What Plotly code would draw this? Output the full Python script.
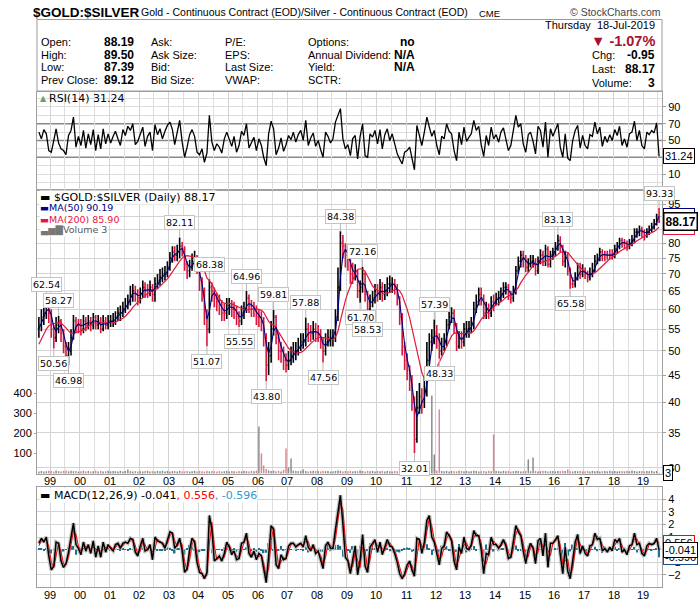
import math
import pandas as pd
import plotly.graph_objects as go

# ---------------- data (monthly readings, Aug 1998 .. Jul 2019) ----------------
first_open = 55.0
close = [
    56, 58, 59, 61, 59,
    55, 53, 56, 57, 54, 51, 49, 50, 53, 57, 56, 56,
    55, 57, 56, 57, 56, 58, 56, 57, 55, 57, 56, 57,
    57, 57, 58, 59, 59, 60, 61, 62, 64, 65, 64, 63,
    64, 66, 65, 65, 66, 64, 67, 68, 69, 70, 70, 72,
    75, 77, 76, 77, 79, 78, 73, 71, 72, 74, 75, 72,
    68, 65, 58, 55, 66, 65, 63, 62, 61, 59, 59, 61,
    61, 60, 60, 58, 57, 59, 60, 63, 61, 60, 60, 58,
    58, 57, 53, 47, 49, 55, 58, 53, 50, 50, 48, 47,
    48, 49, 50, 50, 51, 52, 52, 55, 54, 54, 55, 54,
    54, 52, 50, 52, 53, 53, 53, 58, 66, 80, 79, 76,
    75, 70, 70, 71, 65, 66, 70, 64, 60, 62, 63, 65,
    64, 66, 64, 65, 67, 67, 67, 66, 63, 58, 51, 48,
    46, 44, 40, 34, 39, 41, 40, 42, 48, 52, 53, 54,
    53, 50, 51, 52, 56, 58, 59, 56, 51, 53, 52, 55,
    55, 55, 56, 60, 62, 64, 63, 59, 60, 59, 62, 61.5,
    63, 63, 64, 66, 66, 64, 63, 65, 71, 74, 76, 75,
    72, 73, 74, 74, 71, 74, 76, 74, 78, 73, 76, 77,
    79, 81, 79, 74, 76, 71, 67, 67, 69, 72, 70, 71,
    70, 69, 70, 71, 74, 75, 77, 76, 76, 76, 76, 76,
    78, 79, 81, 80, 80, 79, 80, 81, 84, 84, 85, 84,
    83, 84, 85, 86, 87, 89, 88.17,
]
high = [
    58, 60, 61, 62.54, 62,
    60, 56, 58, 58.27, 57.5, 55, 52, 52, 55, 58.5, 58, 57.5,
    57.5, 58.5, 58, 58.5, 58, 59, 58.5, 58.5, 58, 58.5, 58, 58.5,
    58.5, 59, 59.5, 60.5, 61, 62, 63, 64, 66.5, 67, 66.5, 65.5,
    66, 68, 67.5, 67, 68, 67, 69, 70, 71.5, 72, 72.5, 74,
    77, 79, 79, 79.5, 82.11, 80.5, 79, 74, 74.5, 76.5, 77.5, 76,
    73, 69, 66, 60, 68.38, 67.5, 66, 64.5, 64, 62.5, 61.5, 63,
    63, 62.5, 62, 61, 59.5, 61, 62, 64.96, 64, 62.5, 62, 61,
    60, 59.5, 58, 54, 52, 57, 59.81, 58.5, 54, 52, 51, 49.5,
    50, 51, 52, 52, 53, 54, 54, 57.88, 56.5, 56, 57, 56.5,
    56, 55, 53, 54, 55, 55, 55, 60, 72, 84.38, 83, 80,
    78, 76, 73.5, 73, 71.5, 68, 72.16, 70.5, 65, 64, 65, 67,
    67, 68.5, 67.5, 67, 69, 69.5, 69, 68.5, 67, 63.5, 59, 52,
    49.5, 47, 45, 41, 42, 43.5, 42.5, 44.5, 52, 54, 55, 57.39,
    56, 54, 53, 54, 57.5, 59.5, 60.5, 60, 56.5, 54.5, 54.5, 56.5,
    57, 57, 58, 62, 64, 66, 66, 64, 62, 61.5, 63.5, 64,
    64.5, 65, 66, 67.5, 67.5, 67, 65, 66.5, 72.5, 75.5, 77.5, 77.5,
    76, 75, 76, 76, 75, 75.5, 78, 77.5, 79.5, 79, 77.5, 78.5,
    80.5, 83.13, 82.5, 79.5, 77.5, 77, 72, 69, 70.5, 73.5, 73.5, 73,
    72, 71, 72, 73.5, 76, 76.5, 78.5, 78, 77.5, 77.5, 78, 78,
    79.5, 80.5, 82, 82, 81.5, 81, 81.5, 83, 85.5, 85.5, 86.5, 86,
    85, 85.5, 86.5, 87.5, 89, 91, 93.33,
]
low = [
    53, 54.5, 56, 57.5, 56.5,
    53, 50.56, 52, 54, 52, 49.5, 47.5, 46.98, 49, 52.5, 54, 54,
    53.5, 54, 54.5, 55, 54.5, 55, 55, 55, 54, 54.5, 55, 55,
    55.5, 55.5, 56, 57, 57, 58, 59, 60, 61, 62, 62, 61,
    61.5, 63, 63, 63, 63.5, 62, 62, 65.5, 66.5, 67.5, 68, 69,
    71, 73.5, 74, 74, 75, 75.5, 71, 68.5, 69, 71, 72, 70,
    65, 62, 56, 51.07, 54, 62, 60.5, 59.5, 58.5, 57, 57, 57.5,
    58.5, 58, 57.5, 56, 55.55, 56, 57.5, 59, 59, 58, 58, 56,
    55.5, 54.5, 51, 43.80, 45, 47.5, 53.5, 51.5, 48, 47.5, 46, 45.5,
    46, 47, 47.5, 48, 49, 50, 50.5, 51, 52, 52, 52.5, 52,
    52, 50.5, 47.56, 49, 51, 51, 51, 52, 57, 65, 75, 72,
    71, 67, 67, 68, 63, 61.70, 64.5, 62, 58.53, 59, 60.5, 61.5,
    62, 62.5, 62, 62.5, 63.5, 64.5, 64.5, 64, 61, 56, 49, 46,
    44, 42, 38.5, 32.01, 33.5, 38, 38, 39, 41, 47, 50, 51.5,
    50.5, 48.33, 49, 50, 51, 55, 56.5, 54, 50, 50.5, 50.5, 51,
    53, 53, 54, 55, 59, 61, 61, 57.5, 57.5, 57.5, 58, 59.5,
    61, 61, 62, 63, 64, 62.5, 61.5, 62, 64, 70, 72, 72,
    70.5, 70.5, 72, 72, 69.5, 70, 73, 72.5, 72.5, 72, 72, 74.5,
    75.5, 77.5, 77, 72.5, 72, 69.5, 65.58, 65.8, 66, 68, 68.5, 69,
    68.5, 67.5, 68, 69, 70.5, 73, 74, 74, 74, 74.5, 74.5, 74.5,
    75, 76.5, 78, 78.5, 78, 77.5, 78, 79, 80, 82, 82.5, 82,
    81, 82, 83, 84, 85, 86.5, 87.39,
]
ma50 = [
    55, 56.5, 58, 59.5, 60,
    58.5, 55.5, 54.5, 55.5, 56, 54, 51.5, 50, 51, 53.5, 55.5, 56.3,
    55.8, 56, 56.3, 56.6, 56.4, 57, 57, 56.8, 56, 56.3, 56.2, 56.6,
    56.8, 57, 57.4, 58.2, 58.8, 59.4, 60.3, 61.2, 62.8, 64.2, 64.4, 63.8,
    63.7, 64.8, 65.3, 65.2, 65.5, 65, 65.7, 66.6, 68.2, 69.2, 69.9, 70.8,
    72.8, 75.2, 76.2, 76.6, 77.7, 78.3, 76, 73.3, 72, 72.6, 73.8, 73.5,
    70.5, 67, 62.5, 57.5, 59.5, 63.5, 64.5, 63, 62, 60.5, 59.5, 59.8,
    60.5, 60.6, 60.3, 59.4, 58.2, 58, 59, 60.8, 61.5, 61.2, 60.5, 59.3,
    58.5, 57.6, 56, 51.5, 49.5, 51, 54.5, 55.5, 53.2, 51, 49.5, 48.2,
    47.7, 48.2, 49, 49.7, 50.3, 51, 51.7, 53, 54, 54.3, 54.3, 54.4,
    54.2, 53.3, 51.6, 51.2, 51.8, 52.7, 53, 54.8, 59.5, 69, 76, 78,
    76.5, 73.5, 71.2, 70.3, 68.6, 66.6, 67.3, 66.6, 63.6, 61.8, 61.9, 63.2,
    64, 64.8, 64.9, 64.7, 65.4, 66.3, 67, 66.7, 65.3, 62, 56.5, 51.5,
    48.3, 46, 43.2, 39.5, 37.5, 38.5, 40, 40.8, 43.3, 47.4, 50.8, 53.2,
    53.5, 52.3, 51, 51, 53, 55.3, 57.6, 57.7, 55, 53.3, 52.5, 53.3,
    54.3, 55, 55.4, 57.2, 59.7, 62, 63.2, 62, 60.5, 59.5, 60.3, 61.3,
    62.4, 62.8, 63.4, 64.6, 65.5, 65.3, 64.2, 64, 66.5, 70, 73.7, 75.2,
    74.3, 73.3, 73.2, 73.8, 73, 72.8, 74.5, 75, 75.8, 75.5, 75.4, 75.8,
    77.4, 79.2, 80, 77.9, 76.2, 74.2, 70.6, 68, 67.8, 69.4, 70.6, 70.8,
    70.5, 69.9, 69.6, 70.2, 71.8, 73.6, 75.5, 76.1, 76.2, 76, 76, 76,
    76.8, 78, 79.5, 80.2, 80.3, 79.8, 79.7, 80.2, 82, 83.5, 84.4, 84.5,
    84, 83.7, 84.3, 85.2, 86.2, 87.6, 90.19,
]
ma200 = [
    51.5, 52.5, 53.8, 55, 55.8,
    56.2, 56.3, 56.4, 56.6, 56.5, 56, 55.3, 54.6, 54, 54, 54.2, 54.5,
    54.6, 54.8, 55.3, 55.8, 56.2, 56.5, 56.5, 56.6, 56.5, 56.5, 56.5, 56.5,
    56.5, 56.6, 56.7, 57, 57.3, 57.7, 58.2, 58.8, 59.6, 60.5, 61.3, 61.9,
    62.5, 63.2, 63.8, 64.3, 64.6, 64.9, 65.3, 65.7, 66.3, 67, 67.7, 68.5,
    69.5, 70.7, 71.8, 72.9, 74, 75, 75.6, 75.8, 75.7, 75.5, 75.2, 74.8,
    74, 72.8, 71, 68.8, 68, 67, 65.6, 64.2, 62.9, 62, 61.6, 61.5,
    61.6, 61.4, 61.1, 60.8, 60.4, 60.1, 59.9, 59.9, 60, 60, 60.1, 60.1,
    60, 59.7, 59.2, 58, 56.9, 56.2, 56, 55.3, 54.3, 53.5, 52.6, 51.6,
    50.6, 50.1, 49.8, 49.6, 49.6, 49.7, 50, 50.6, 51.1, 51.6, 52.2, 52.6,
    53, 53.1, 53, 52.9, 52.8, 52.7, 52.6, 53.1, 54.5, 57.1, 59.8, 62.3,
    64.5, 66.4, 68.3, 70.1, 71.4, 71.6, 71.4, 70.8, 69.3, 67.6, 66.4, 65.7,
    65.3, 64.9, 64.4, 64.3, 64.4, 64.6, 65, 65.4, 65.5, 65, 63.8, 62,
    60, 57.8, 55.2, 52.2, 49.8, 47.5, 45.5, 44.3, 43.8, 44, 44.6, 45.5,
    46.5, 47.5, 48.5, 49.8, 51, 52.3, 53.4, 54, 54.1, 54, 53.9, 53.9,
    54, 54, 54.1, 54.6, 55.4, 56.4, 57.4, 58.2, 58.8, 59.4, 60, 60.7,
    61.2, 61.5, 61.9, 62.5, 63.2, 63.6, 63.8, 64.1, 64.9, 66, 67.4, 68.7,
    69.6, 70.5, 71.6, 72.6, 73.1, 73.4, 73.6, 73.7, 74.1, 74.3, 74.6, 75.1,
    75.5, 76.2, 76.9, 77, 77.2, 76.9, 75.8, 74.7, 73.7, 72.9, 72, 71.3,
    70.6, 69.9, 69.6, 69.9, 70.4, 71, 71.8, 72.6, 73.3, 74, 74.8, 75.3,
    75.9, 76.5, 77.2, 77.7, 78.2, 78.6, 79, 79.5, 80.2, 80.9, 81.5, 82.1,
    82.6, 83, 83.4, 83.8, 84.3, 85, 85.90,
]
volume = [
    10, 12, 9, 11, 13,
    12, 10, 14, 11, 9, 12, 15, 10, 13, 11, 12, 9,
    11, 13, 10, 12, 9, 11, 14, 10, 12, 9, 11, 13,
    10, 12, 11, 9, 13, 10, 12, 20, 11, 10, 12, 9,
    11, 10, 12, 13, 9, 11, 10, 12, 11, 13, 10, 12,
    9, 11, 12, 10, 13, 11, 10, 12, 9, 11, 13, 10,
    12, 11, 9, 13, 10, 12, 11, 10, 12, 9, 11, 13,
    10, 12, 11, 9, 12, 10, 13, 11, 10, 12, 11, 14,
    235, 100, 40, 22, 15, 12, 14, 11, 13, 10, 18, 125,
    30, 75, 14, 12, 11, 13, 20, 12, 10, 11, 13, 12,
    12, 10, 13, 11, 12, 9, 11, 12, 14, 13, 10, 12,
    11, 13, 10, 12, 11, 14, 12, 10, 13, 11, 12, 10,
    12, 11, 13, 10, 12, 11, 9, 12, 11, 13, 10, 12,
    11, 13, 12, 10, 14, 11, 12, 10, 13, 11, 390, 95,
    14, 320, 12, 11, 13, 10, 12, 11, 10, 13, 12, 11,
    12, 10, 11, 13, 12, 10, 11, 12, 10, 13, 11, 195,
    12, 11, 10, 13, 11, 12, 10, 11, 13, 12, 10, 11,
    12, 70, 11, 80, 12, 10, 11, 13, 12, 10, 11, 12,
    10, 12, 11, 13, 12, 20, 11, 10, 12, 11, 13, 10,
    11, 12, 10, 13, 11, 12, 10, 11, 12, 10, 13, 11,
    12, 10, 11, 12, 10, 13, 11, 15, 12, 10, 11, 12,
    10, 12, 11, 13, 10, 12, 3,
]
rsi = [
    60, 52, 63, 58, 38,
    36, 50, 64, 47, 40, 38, 33, 56, 62, 78, 42, 55,
    44, 62, 41, 58, 45, 63, 38, 57, 40, 64, 46, 58,
    47, 55, 61, 52, 44, 63, 56, 67, 62, 70, 45, 49,
    58, 66, 43, 55, 60, 38, 69, 57, 64, 52, 61, 68,
    72, 63, 45, 59, 74, 48, 30, 42, 57, 63, 55, 36,
    33, 40, 24, 35, 80, 48, 38, 46, 42, 35, 52, 60,
    50, 43, 55, 36, 44, 61, 56, 70, 41, 48, 54, 38,
    52, 44, 30, 20, 58, 73, 64, 33, 41, 53, 37, 45,
    56, 51, 60, 48, 57, 62, 50, 74, 44, 53, 59, 43,
    50, 39, 30, 60, 55, 47, 52, 72, 80, 88, 52, 40,
    45, 32, 52, 56, 28, 55, 70, 32, 30, 58, 54, 62,
    46, 63, 40, 57, 64, 50, 58, 45, 34, 28, 22, 36,
    38, 42, 28, 15, 68, 57, 44, 60, 78, 66, 55, 62,
    44, 33, 55, 52, 70, 61, 58, 38, 26, 60, 45, 66,
    49, 54, 58, 74, 62, 67, 45, 31, 56, 44, 66, 52,
    57, 48, 60, 65, 51, 38, 44, 62, 80, 66, 70, 46,
    36, 57, 60, 49, 34, 67, 62, 42, 72, 30, 64, 55,
    63, 70, 42, 30, 58, 29, 26, 50, 62, 68, 41, 56,
    44, 40, 57, 55, 72, 58, 66, 43, 55, 48, 57, 50,
    63, 56, 67, 44, 52, 42, 58, 60, 73, 50, 62, 44,
    40, 60, 57, 62, 59, 71, 31.24,
]
macd = [
    0.5, 0.9, 0.6, 1.0, -0.5,
    -1.6, -1.3, 0.6, 0.5, -0.9, -1.4, -1.1, -0.2, 1.0, 2.1, 0.4, 0.1,
    -0.4, 0.6, -0.1, 0.4, -0.3, 0.7, -0.6, 0.3, -0.6, 0.6, -0.2, 0.4,
    0.1, -0.1, 0.4, 0.5, 0.1, 0.5, 0.6, 0.5, 0.9, 0.8, -0.2, -0.5,
    0.3, 0.9, -0.1, 0.0, 0.4, -0.8, 1.0, 0.7, 0.6, 0.5, 0.1, 0.8,
    1.4, 1.3, 0.1, 0.4, 0.9, -0.1, -1.8, -1.5, 0.0, 0.9, 0.6, -1.0,
    -1.8, -1.9, -2.3, -1.8, 2.7, 1.6, -0.9, -0.7, -0.5, -0.9, -0.3, 0.6,
    0.2, -0.4, -0.1, -0.8, -0.7, 0.5, 0.6, 1.3, -0.3, -0.6, -0.1, -0.8,
    -0.3, -0.5, -1.6, -2.6, -0.5, 1.9, 1.6, -1.2, -1.5, -0.4, -0.8, -0.7,
    0.3, 0.5, 0.5, 0.2, 0.4, 0.5, 0.2, 1.1, 0.2, -0.1, 0.4, -0.3,
    -0.1, -0.8, -1.5, 0.3, 0.6, 0.1, 0.1, 1.6, 3.1, 4.3, 2.0, -0.6,
    -0.9, -1.9, -0.8, 0.3, -2.0, -0.8, 1.2, -1.3, -1.8, 0.2, 0.5, 0.8,
    -0.2, 0.6, -0.4, 0.2, 0.8, 0.3, 0.2, -0.3, -1.0, -1.9, -2.3, -1.9,
    -1.2, -0.9, -1.6, -2.1, 0.9, 0.8, -0.3, 0.6, 2.3, 2.7, 1.0, 0.6,
    -0.3, -1.2, 0.1, 0.3, 1.4, 1.1, 0.7, -0.9, -1.6, 0.2, -0.3, 1.0,
    0.1, 0.0, 0.4, 1.5, 1.1, 1.1, 0.0, -1.9, -0.3, -0.4, 1.0, 0.4,
    0.4, 0.1, 0.4, 0.8, 0.3, -0.7, -0.6, 0.6, 1.9, 1.4, 1.1, -0.1,
    -1.1, 0.0, 0.5, 0.1, -1.1, 0.7, 0.9, -0.5, 1.3, -1.4, 0.5, 0.5,
    0.8, 1.1, -0.4, -1.9, 0.2, -1.7, -2.3, -0.7, 0.6, 1.2, -0.3, 0.3,
    -0.3, -0.5, 0.3, 0.4, 1.3, 0.8, 0.9, -0.1, 0.1, -0.2, 0.2, -0.1,
    0.8, 0.6, 0.9, -0.2, 0.0, -0.4, 0.3, 0.4, 1.3, 0.4, 0.5, -0.3,
    -0.5, 0.3, 0.5, 0.4, 0.5, 0.9, -0.041,
]
signal = [
    0.3, 0.7, 0.75, 0.8, 0.25,
    -1.0, -1.4, -0.4, 0.5, -0.2, -1.1, -1.2, -0.6, 0.4, 1.5, 1.2, 0.3,
    -0.1, 0.1, 0.25, 0.15, 0.05, 0.2, 0.05, -0.1, -0.1, 0.0, 0.2, 0.1,
    0.25, 0.0, 0.15, 0.45, 0.3, 0.3, 0.55, 0.55, 0.7, 0.85, 0.3, -0.35,
    -0.1, 0.6, 0.4, -0.05, 0.2, -0.2, 0.1, 0.85, 0.65, 0.55, 0.3, 0.45,
    1.1, 1.35, 0.7, 0.25, 0.65, 0.4, -0.95, -1.65, -0.75, 0.45, 0.75, -0.2,
    -1.4, -1.85, -2.1, -2.05, 0.45, 2.15, 0.35, -0.8, -0.6, -0.7, -0.6, 0.15,
    0.4, -0.1, -0.25, -0.45, -0.75, -0.1, 0.55, 0.95, 0.5, -0.45, -0.35, -0.45,
    -0.55, -0.4, -1.05, -2.1, -1.55, 0.7, 1.75, 0.2, -1.35, -0.95, -0.6, -0.75,
    -0.2, 0.4, 0.5, 0.35, 0.3, 0.45, 0.35, 0.65, 0.65, 0.05, 0.15, 0.05,
    -0.2, -0.45, -1.15, -0.6, 0.45, 0.35, 0.1, 0.85, 2.35, 3.7, 3.15, 0.7,
    -0.75, -1.4, -1.35, -0.25, -0.85, -1.4, 0.2, -0.05, -1.55, -0.8, 0.35, 0.65,
    0.3, 0.2, 0.1, -0.1, 0.5, 0.55, 0.25, -0.05, -0.65, -1.45, -2.1, -2.1,
    -1.55, -1.05, -1.25, -1.85, -0.6, 0.85, 0.25, 0.15, 1.45, 2.5, 1.85, 0.8,
    0.15, -0.75, -0.55, 0.2, 0.85, 1.25, 0.9, -0.1, -1.25, -0.7, -0.05, 0.35,
    0.55, 0.05, 0.2, 0.95, 1.3, 1.1, 0.55, -0.95, -1.1, -0.35, 0.3, 0.7,
    0.4, 0.25, 0.25, 0.6, 0.55, -0.2, -0.65, 0.0, 1.25, 1.65, 1.25, 0.5,
    -0.6, -0.55, 0.25, 0.3, -0.5, -0.2, 0.8, 0.2, 0.4, -0.05, -0.45, 0.5,
    0.65, 0.95, 0.35, -1.15, -0.85, -0.75, -2.0, -1.5, -0.05, 0.9, 0.45, 0.0,
    0.0, -0.4, -0.1, 0.35, 0.85, 1.05, 0.85, 0.4, 0.0, -0.05, 0.0, 0.05,
    0.35, 0.7, 0.75, 0.35, -0.1, -0.2, -0.05, 0.35, 0.85, 0.85, 0.45, 0.1,
    -0.4, -0.1, 0.4, 0.45, 0.45, 0.7, 0.556,
]
hist = [
    0.1, 0.1, -0.1, 0.1, -0.4,
    -0.3, 0.05, 0.5, 0.0, -0.35, -0.15, 0.05, 0.2, 0.3, 0.3, -0.4, -0.1,
    -0.15, 0.25, -0.2, 0.12, -0.18, 0.25, -0.3, 0.2, -0.25, 0.3, -0.2, 0.15,
    -0.08, -0.05, 0.12, 0.03, -0.1, 0.1, 0.03, -0.03, 0.1, -0.02, -0.25, -0.08,
    0.2, 0.15, -0.25, 0.03, 0.1, -0.3, 0.45, -0.08, -0.03, -0.03, -0.1, 0.18,
    0.15, -0.03, -0.3, 0.07, 0.12, -0.25, -0.42, 0.07, 0.38, 0.22, -0.07, -0.4,
    -0.2, -0.03, -0.1, 0.12, 1.1, -0.28, -0.62, 0.05, 0.05, -0.1, 0.15, 0.22,
    -0.1, -0.15, 0.08, -0.18, 0.02, 0.3, 0.03, 0.18, -0.4, -0.08, 0.12, -0.18,
    0.12, -0.05, -0.28, -0.25, 0.52, 0.6, -0.07, -0.7, -0.08, 0.28, -0.1, 0.03,
    0.25, 0.05, 0.0, -0.08, 0.05, 0.03, -0.08, 0.22, -0.22, -0.08, 0.12, -0.18,
    0.05, -0.17, -0.17, 0.45, 0.07, -0.12, 0.0, 0.38, 0.38, 0.3, -0.57, -0.65,
    -0.08, -0.25, 0.28, 0.28, -0.58, 0.3, 0.5, -0.62, -0.12, 0.5, 0.08, 0.08,
    -0.25, 0.2, -0.25, 0.15, 0.15, -0.12, -0.03, -0.12, -0.17, -0.22, -0.1, 0.1,
    0.17, 0.08, -0.17, -0.12, 0.75, -0.02, -0.28, 0.22, 0.42, 0.1, -0.42, -0.1,
    -0.22, -0.22, 0.32, 0.05, 0.28, -0.08, -0.1, -0.4, -0.18, 0.45, -0.12, 0.32,
    -0.22, -0.03, 0.1, 0.28, -0.1, 0.0, -0.28, -0.48, 0.4, -0.02, 0.35, -0.15,
    0.0, -0.08, 0.08, 0.1, -0.12, -0.25, 0.02, 0.3, 0.32, -0.12, -0.08, -0.3,
    -0.25, 0.28, 0.12, -0.1, -0.3, 0.45, 0.05, -0.35, 0.45, -0.68, 0.48, 0.0,
    0.08, 0.08, -0.38, -0.38, 0.52, -0.48, -0.15, 0.4, 0.32, 0.15, -0.38, 0.15,
    -0.15, -0.05, 0.2, 0.03, 0.22, -0.12, 0.03, -0.25, 0.05, -0.08, 0.1, -0.08,
    0.22, -0.05, 0.08, -0.28, 0.05, -0.1, 0.17, 0.03, 0.22, -0.22, 0.02, -0.2,
    -0.05, 0.2, 0.05, -0.03, 0.03, 0.1, -0.596,
]
year_labels = ['99', '00', '01', '02', '03', '04', '05', '06', '07', '08', '09',
               '10', '11', '12', '13', '14', '15', '16', '17', '18', '19']
mark_months = ['1998-11', '1999-02', '1999-04', '1999-08', '2003-05', '2004-04', '2004-05',
               '2005-05', '2005-08', '2006-04', '2006-07', '2007-08', '2008-03', '2008-10',
               '2009-06', '2009-07', '2009-09', '2011-04', '2011-12', '2012-02', '2016-02',
               '2016-07', '2019-07']
mark_side = ['hi', 'lo', 'hi', 'lo', 'hi', 'lo', 'hi', 'lo', 'hi', 'lo', 'hi', 'hi', 'lo', 'hi',
             'lo', 'hi', 'lo', 'lo', 'hi', 'lo', 'hi', 'lo', 'hi']

series = dict(close=close, high=high, low=low, ma50=ma50, ma200=ma200, volume=volume,
              rsi=rsi, macd=macd, signal=signal, hist=hist)
n = len(close)
lens = {k: len(v) for k, v in series.items()}
assert all(v == n for v in lens.values()), lens

# ---------------- derived positions ----------------
dates = pd.date_range('1998-08-01', periods=n, freq='MS') + pd.Timedelta(days=14)
date_str = [d.strftime('%Y-%m-%d') for d in dates]
ym = [d.strftime('%Y-%m') for d in dates]
opens = [first_open] + close[:-1]

UP = 'black'
DOWN = '#d8173f'
NAVY = '#00007f'
RED = '#e2183d'
FONT_UI = 'Liberation Sans, Arial, sans-serif'
FONT_V = 'DejaVu Sans, Verdana, sans-serif'

W, H = 700, 603
L, R, T, B = 37, 38, 92, 16
PW, PH = W - L - R, H - T - B


def fx(x):
    return (x - L) / PW


def fy(y):
    return (H - B - y) / PH


vol_colors = ['rgba(110,110,110,0.8)' if c >= o else 'rgba(205,95,110,0.75)'
              for c, o in zip(close, opens)]

fig = go.Figure()
# main panel
fig.add_trace(go.Bar(x=date_str, y=volume, xaxis='x2', yaxis='y2',
                     marker=dict(color=vol_colors, line=dict(width=0)), hoverinfo='skip'))
fig.add_trace(go.Ohlc(x=date_str, open=opens, high=high, low=low, close=close,
                      xaxis='x2', yaxis='y3', tickwidth=0.45,
                      increasing=dict(line=dict(color=UP, width=1.6)),
                      decreasing=dict(line=dict(color=DOWN, width=1.6)), hoverinfo='skip'))
fig.add_trace(go.Scatter(x=date_str, y=ma200, xaxis='x2', yaxis='y3', mode='lines',
                         line=dict(color=RED, width=1.2), hoverinfo='skip'))
fig.add_trace(go.Scatter(x=date_str, y=ma50, xaxis='x2', yaxis='y3', mode='lines',
                         line=dict(color=NAVY, width=1.1), hoverinfo='skip'))
# RSI panel
fig.add_trace(go.Scatter(x=date_str, y=rsi, xaxis='x3', yaxis='y4', mode='lines',
                         line=dict(color='black', width=1.3), hoverinfo='skip'))
# MACD panel
fig.add_trace(go.Bar(x=date_str, y=hist, xaxis='x', yaxis='y',
                     marker=dict(color='#1f6f8f', line=dict(width=0)), hoverinfo='skip'))
fig.add_trace(go.Scatter(x=date_str, y=macd, xaxis='x', yaxis='y', mode='lines',
                         line=dict(color='#c4c4c4', width=4), hoverinfo='skip'))
fig.add_trace(go.Scatter(x=date_str, y=signal, xaxis='x', yaxis='y', mode='lines',
                         line=dict(color='#ff0000', width=1), hoverinfo='skip'))
fig.add_trace(go.Scatter(x=date_str, y=macd, xaxis='x', yaxis='y', mode='lines',
                         line=dict(color='black', width=1.5), hoverinfo='skip'))

tick_dates = [f'{y}-01-01' for y in range(1999, 2020)]
mid_dates = [f'{y}-07-01' for y in range(1998, 2020)]
GRID = '#d3d3d3'
BORDER = '#a0a0a0'
xbase = dict(type='date', range=['1998-07-23', '2019-08-20'], tickmode='array',
             tickvals=tick_dates, showticklabels=False, showgrid=True, gridcolor=GRID,
             gridwidth=1,
             minor=dict(tickmode='array', tickvals=mid_dates, showgrid=True,
                        gridcolor='#dedede', gridwidth=1),
             showline=True, linecolor=BORDER, linewidth=1, mirror=True, ticks='',
             zeroline=False, automargin=False,
             rangeslider=dict(visible=False), fixedrange=True)
ybase = dict(side='right', showline=True, linecolor=BORDER, linewidth=1, mirror=True,
             ticks='outside', ticklen=3, tickcolor=BORDER, zeroline=False,
             tickfont=dict(family=FONT_UI, size=11, color='black'), gridcolor=GRID,
             automargin=False, fixedrange=True)

price_ticks = list(range(30, 100, 5))
fig.update_layout(
    width=W, height=H, margin=dict(l=L, r=R, t=T, b=B, autoexpand=False),
    paper_bgcolor='white', plot_bgcolor='white', showlegend=False, bargap=0.35,
    xaxis=dict(xbase, anchor='y'),
    xaxis2=dict(xbase, anchor='y2', matches='x'),
    xaxis3=dict(xbase, anchor='y4', matches='x'),
    yaxis=dict(ybase, domain=[0, fy(487)], anchor='x', range=[-2.95, 4.95],
               tickmode='array', tickvals=[-2, -1, 0, 1, 2, 3, 4], showgrid=True),
    yaxis2=dict(ybase, domain=[fy(474), fy(190)], anchor='x2', side='left',
                range=[-3, 1417], tickmode='array', tickvals=[100, 200, 300, 400],
                showgrid=False, ticklen=2),
    yaxis3=dict(ybase, overlaying='y2', anchor='x2', side='right', type='log',
                range=[math.log10(29.22), math.log10(100.99)], tickmode='array',
                tickvals=price_ticks, ticktext=[str(v) for v in price_ticks],
                showgrid=True, showline=False),
    yaxis4=dict(ybase, domain=[fy(190), 1], anchor='x3', range=[-9.1, 107.9],
                tickmode='array', tickvals=[10, 30, 50, 70, 90], showgrid=False,
                minor=dict(tickmode='array', tickvals=[0, 10, 20, 40, 60, 80, 90, 100],
                           showgrid=True, gridcolor='#dcdcdc', ticks='')),
)

shapes = []
for lvl in (30, 50, 70):
    shapes.append(dict(type='line', xref='paper', x0=0, x1=1, yref='y4', y0=lvl, y1=lvl,
                       line=dict(color='#8a8a8a', width=1.3), layer='below'))
shapes.append(dict(type='rect', xref='paper', yref='paper', x0=fx(37), x1=fx(662),
                   y0=fy(91), y1=fy(19.5), line=dict(color='#9a9a9a', width=1)))
fig.update_layout(shapes=shapes)

ann = []


def text(x, y, s, size=11, color='black', anchor='left', family=FONT_UI, bold=False, bg=None):
    d = dict(xref='paper', yref='paper', x=fx(x), y=fy(y),
             text=f'<b>{s}</b>' if bold else s, showarrow=False, xanchor=anchor,
             yanchor='middle', borderpad=0,
             font=dict(family=family, size=size, color=color))
    if bg:
        d['bgcolor'] = bg
    ann.append(d)


# year labels under the price panel and the MACD panel
for d, lab in zip(tick_dates, year_labels):
    for yy in (481, 595):
        ann.append(dict(xref='x', yref='paper', x=d, y=fy(yy), text=lab, showarrow=False,
                        xanchor='center', yanchor='middle',
                        font=dict(family=FONT_UI, size=11, color='black')))

# title line
text(32, 12.5, '$GOLD:$SILVER', size=13.5, bold=True)
text(140, 12.5, 'Gold - Continuous Contract (EOD)/Silver - Continuous Contract (EOD)', size=10.5)
text(478, 13, 'CME', size=9.5)
text(662, 12.5, '\u00a9 StockCharts.com', size=10.5, color='#444444', anchor='right')

# info box
rows = [42.5, 54.5, 66.5, 80]
for yy, a, av, b, c, d, dv in zip(
        rows,
        ['Open:', 'High:', 'Low:', 'Prev Close:'],
        ['88.19', '89.50', '87.39', '89.12'],
        ['Ask:', 'Ask Size:', 'Bid:', 'Bid Size:'],
        ['P/E:', 'EPS:', 'Last Size:', 'VWAP:'],
        ['Options:', 'Annual Dividend:', 'Yield:', 'SCTR:'],
        ['no', 'N/A', 'N/A', '']):
    text(40, yy, a, size=11)
    text(135, yy, av, size=12, bold=True, anchor='right')
    text(150, yy, b, size=11)
    text(224, yy, c, size=11)
    text(307, yy, d, size=11)
    if dv:
        text(416, yy, dv, size=12, bold=True, anchor='right')
text(656, 25, 'Thursday&nbsp;&nbsp;18-Jul-2019', size=11, anchor='right')
text(656, 41, '\u25bc -1.07%', size=14.5, bold=True, color='#a6132f', anchor='right')
text(591, 54.5, 'Chg:', size=11)
text(656, 54.5, '-0.95', size=12, bold=True, anchor='right')
text(591, 68.5, 'Last:', size=11)
text(656, 68.5, f'{close[-1]:.2f}', size=12, bold=True, anchor='right')
text(591, 82.5, 'Volume:', size=11)
text(656, 82.5, f'{volume[-1]}', size=12, bold=True, anchor='right')

# panel legends
text(39, 98.5, "<span style='color:#6f9a6f'>\u25b2</span>", size=8, family=FONT_V)
text(48, 98.5, f'RSI(14) {rsi[-1]:.2f}', size=11, family=FONT_V)
text(39, 197, f"\u25ac $GOLD:$SILVER (Daily) {close[-1]:.2f}", size=11, family=FONT_V, bg='white')
text(39, 208, f"\u25ac<span>MA(50) {ma50[-1]:.2f}</span>", size=9.5, family=FONT_V,
     color=NAVY, bg='white')
text(39, 219, f"\u25ac<span>MA(200) {ma200[-1]:.2f}</span>", size=9.5, family=FONT_V,
     color=RED, bg='white')
text(39, 230, f"<span style='color:#777777'>\u2583\u2585\u2587</span>Volume {volume[-1]}",
     size=9.5, family=FONT_V, color='#555555', bg='white')
text(39, 495, f"\u25ac MACD(12,26,9) {macd[-1]:.3f}"
     f"<span style='color:#ff0000'>, {signal[-1]:.3f}</span>"
     f"<span style='color:#3399cc'>, {hist[-1]:.3f}</span>",
     size=11, family=FONT_V, bg='white')

# extreme value labels
for m, side in zip(mark_months, mark_side):
    i = ym.index(m)
    v = high[i] if side == 'hi' else low[i]
    ann.append(dict(xref='x2', yref='y3', x=date_str[i], y=math.log10(v), text=f'{v:.2f}',
                    showarrow=True, arrowhead=0, arrowwidth=1, arrowcolor='#b8b8b8',
                    ax=0, ay=-15 if side == 'hi' else 15, standoff=0,
                    bgcolor='white', bordercolor='#c4c4c4', borderwidth=1, borderpad=1,
                    font=dict(family=FONT_V, size=9.5, color='black')))


def vbox(yref, yval, s, border, size=11, bw=1):
    ann.append(dict(xref='paper', x=1, xanchor='left', xshift=1, yref=yref, y=yval,
                    yanchor='middle', text=s, showarrow=False, bgcolor='white',
                    bordercolor=border, borderwidth=bw, borderpad=1,
                    font=dict(family=FONT_UI, size=size, color='black')))


vbox('y4', rsi[-1], f'{rsi[-1]:.2f}', 'black')
vbox('y2', volume[-1], f'{volume[-1]}', 'black')
vbox('y3', math.log10(ma50[-1]), f'{ma50[-1]:.2f}', NAVY)
vbox('y3', math.log10(ma200[-1]), f'{ma200[-1]:.2f}', RED)
vbox('y3', math.log10(close[-1]), f'<b>{close[-1]:.2f}</b>', 'black', size=12, bw=1.5)
vbox('y', signal[-1], f'{signal[-1]:.3f}', '#ff0000')
vbox('y', hist[-1], f'{hist[-1]:.3f}', '#1f4e8c')
vbox('y', macd[-1], f'{macd[-1]:.3f}', 'black')

fig.update_layout(annotations=ann)
fig.write_html('out.html', config={'displayModeBar': False},
               post_script="document.body.style.margin='0px';document.body.style.padding='0px';")
